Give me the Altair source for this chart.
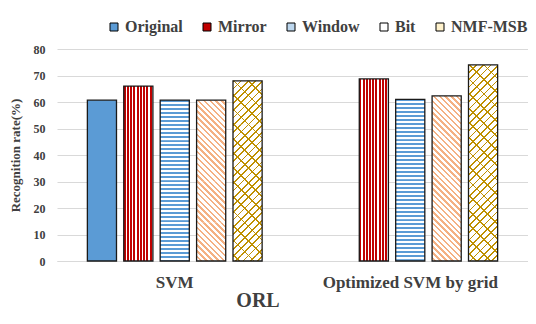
import altair as alt
import pandas as pd

# ---- data ----
methods = ["SVM", "Optimized SVM by grid"]
series = ["Original", "Mirror", "Window", "Bit", "NMF-MSB"]
svm_rates = [60.7, 66.0, 60.7, 60.7, 68.0]
opt_rates = [None, 68.7, 61.0, 62.3, 74.0]
legend_colors = ["#5B9BD5", "#C00000", "#BDD7EE", "#FFFFFF", "#FFF2CC"]

rows = []
for m, vals in zip(methods, [svm_rates, opt_rates]):
    for s, v in zip(series, vals):
        if v is not None:
            rows.append({"method": m, "series": s, "rate": v})
df = pd.DataFrame(rows)

SERIF = "Liberation Serif"
TXT = "#404040"
GRID = "#D9D9D9"
EDGE = "#1a1a1a"

# ---- layout constants (style) ----
PLOT_W, PLOT_H, Y_MAX = 471, 212, 80
PX_PER_UNIT = PLOT_H / Y_MAX
X_PAD_IN, XO_PAD_IN, XO_PAD_OUT = 0.227, 0.2, 0.1
BAR_W = (PLOT_W / 2) * (1 - X_PAD_IN) / 5 * (1 - XO_PAD_IN)


def stripe_stops(color, bg, n, frac):
    stops = []
    for i in range(n):
        a, b, c = i / n, (i + frac) / n, (i + 1) / n
        stops += [
            alt.GradientStop(offset=a, color=color),
            alt.GradientStop(offset=b, color=color),
            alt.GradientStop(offset=b, color=bg),
            alt.GradientStop(offset=c, color=bg),
        ]
    return stops


def grad(stops, x1, y1, x2, y2):
    return alt.LinearGradient(gradient="linear", stops=stops, x1=x1, y1=y1, x2=x2, y2=y2)


def diag_back(color, bg, period, seg_px, n, frac):
    # "\" stripes; t = 0 at bottom-left of the segment
    W, h = BAR_W, seg_px
    L = n * period
    k = L / (W * W + h * h)
    return grad(stripe_stops(color, bg, n, frac), 0, 1, W * k, 1 - h * k)


def diag_fwd(color, bg, period, seg_px, n, frac):
    # "/" stripes; t = 0 at top-left of the segment
    W, h = BAR_W, seg_px
    L = n * period
    k = L / (W * W + h * h)
    return grad(stripe_stops(color, bg, n, frac), 0, 0, W * k, h * k)


def segments(name, seg_units):
    out = []
    for r in df[df.series == name].itertuples():
        top = r.rate
        while top > 0:
            out.append({"method": r.method, "series": r.series,
                        "top": top, "bottom": top - seg_units})
            top -= seg_units
    return pd.DataFrame(out)


x_enc = alt.X(
    "method:N",
    sort=methods,
    scale=alt.Scale(paddingInner=X_PAD_IN, paddingOuter=X_PAD_IN / 2),
    axis=alt.Axis(
        title="ORL",
        labelAngle=0,
        ticks=False,
        tickSize=0,
        domainColor=GRID,
        labelFont=SERIF,
        labelFontSize=17,
        labelFontWeight="bold",
        labelColor=TXT,
        labelBaseline="middle",
        labelPadding=21,
        titleFont=SERIF,
        titleFontSize=20,
        titleFontWeight="bold",
        titleColor=TXT,
        titleX=200.5,
        titleY=39,
        titleBaseline="middle",
    ),
)
xo_enc = alt.XOffset(
    "series:N",
    sort=series,
    scale=alt.Scale(domain=series, paddingInner=XO_PAD_IN, paddingOuter=XO_PAD_OUT),
)


def y_enc(field):
    return alt.Y(
        f"{field}:Q",
        scale=alt.Scale(domain=[0, Y_MAX]),
        axis=alt.Axis(
            values=[0, 10, 20, 30, 40, 50, 60, 70, 80],
            title="Recognition rate(%)",
            domain=False,
            ticks=False,
            tickSize=0,
            gridColor=GRID,
            labelFont=SERIF,
            labelFontSize=12,
            labelFontWeight="bold",
            labelColor=TXT,
            labelPadding=12,
            titleFont=SERIF,
            titleFontSize=13,
            titleFontWeight="bold",
            titleColor=TXT,
            titleX=-42,
            titleY=106,
            titleBaseline="middle",
        ),
    )


base = alt.Chart(df).mark_bar(strokeWidth=0).encode(
    x=x_enc,
    xOffset=xo_enc,
    y=y_enc("rate"),
    fill=alt.Fill(
        "series:N",
        sort=series,
        scale=alt.Scale(domain=series, range=legend_colors),
        legend=alt.Legend(
            orient="none",
            legendX=49,
            legendY=-30,
            direction="horizontal",
            title=None,
            symbolType="square",
            symbolSize=64,
            symbolStrokeColor="black",
            symbolStrokeWidth=1,
            labelFont=SERIF,
            labelFontSize=16,
            labelFontWeight="bold",
            labelColor=TXT,
            labelOffset=3,
            columnPadding=16,
            padding=0,
        ),
    ),
)

# Mirror: vertical red stripes over the whole bar
mirror = (
    alt.Chart(df)
    .transform_filter(alt.datum.series == "Mirror")
    .mark_bar(fill=grad(stripe_stops("#C00000", "#FFFFFF", 9, 0.62), 0, 0, 1, 0), strokeWidth=0)
    .encode(x=x_enc, xOffset=xo_enc, y=y_enc("rate"))
)

# Window: horizontal blue stripes, 10 per segment of 40 px
win_seg_px = 40.0
window = (
    alt.Chart(segments("Window", win_seg_px / PX_PER_UNIT))
    .mark_bar(fill=grad(stripe_stops("#5B9BD5", "#FFFFFF", 10, 0.45), 0, 0, 0, 1),
              strokeWidth=0, clip=True)
    .encode(x=x_enc, xOffset=xo_enc, y=y_enc("top"), y2="bottom:Q")
)

# Bit: diagonal salmon stripes
bit_period = BAR_W / 5
bit_seg_px = 7 * bit_period
bit = (
    alt.Chart(segments("Bit", bit_seg_px / PX_PER_UNIT))
    .mark_bar(fill=diag_back("#F4B183", "#FFFFFF", bit_period, bit_seg_px, 13, 0.42),
              strokeWidth=0, clip=True)
    .encode(x=x_enc, xOffset=xo_enc, y=y_enc("top"), y2="bottom:Q")
)

# NMF-MSB: gold lattice
nmf_p1 = BAR_W / 4
nmf_p2 = BAR_W / 2
nmf_seg_px = 3 * nmf_p2
nmf_data = segments("NMF-MSB", nmf_seg_px / PX_PER_UNIT)
nmf_a = (
    alt.Chart(nmf_data)
    .mark_bar(fill=diag_back("#BF9000", "#FFFFFF", nmf_p2, nmf_seg_px, 6, 0.12),
              strokeWidth=0, clip=True)
    .encode(x=x_enc, xOffset=xo_enc, y=y_enc("top"), y2="bottom:Q")
)
nmf_b = (
    alt.Chart(nmf_data)
    .mark_bar(fill=diag_fwd("#BF9000", "rgba(255,255,255,0)", nmf_p1, nmf_seg_px, 11, 0.24),
              strokeWidth=0, clip=True)
    .encode(x=x_enc, xOffset=xo_enc, y=y_enc("top"), y2="bottom:Q")
)

outline = alt.Chart(df).mark_bar(fillOpacity=0, stroke=EDGE, strokeWidth=1.3).encode(
    x=x_enc, xOffset=xo_enc, y=y_enc("rate")
)

chart = (
    alt.layer(base, mirror, window, bit, nmf_a, nmf_b, outline)
    .properties(
        width=PLOT_W,
        height=PLOT_H,
        autosize="none",
        padding={"left": 49, "top": 41, "right": 0, "bottom": 48},
    )
    .configure_view(stroke=None)
    .configure_legend(labelFont=SERIF, labelFontWeight="bold")
    .configure_axis(labelFont=SERIF, titleFont=SERIF)
)

chart.save("out.html", embed_options={"renderer": "svg", "actions": False})
